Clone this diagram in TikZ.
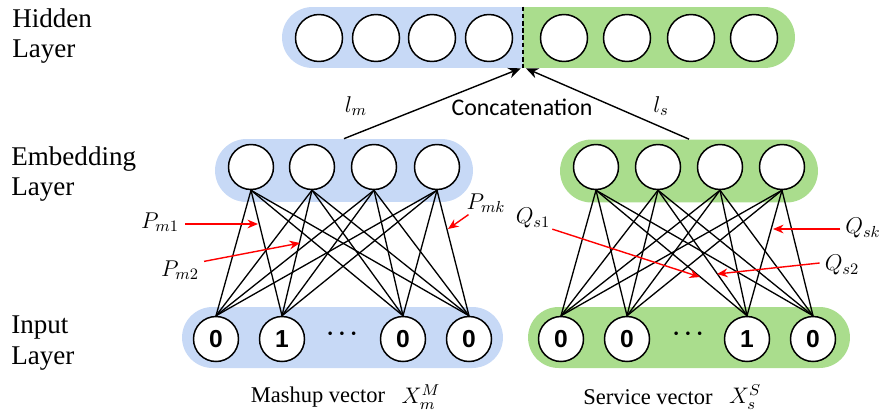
\RequirePackage{fix-cm}
\documentclass[tikz,border=0pt]{standalone}
\usepackage{fontspec}
\setmainfont{Liberation Serif}
\newfontfamily\carlito{Carlito}
\newfontfamily\digitfont{Liberation Sans}
\usetikzlibrary{arrows.meta,shapes.misc}
\definecolor{mblue}{RGB}{199,217,246}
\definecolor{sgreen}{RGB}{170,221,141}

\begin{document}
\begin{tikzpicture}[x=0.02cm,y=-0.02cm,
  unit/.style={circle,draw,line width=0.85pt,fill=white,minimum size=0.9cm,inner sep=0pt},
  inunit/.style={unit,font=\digitfont\bfseries\fontsize{14}{14}\selectfont},
  band/.style={rounded rectangle,inner sep=0pt,minimum height=1.22cm},
  link/.style={line width=0.75pt},
  concat/.style={line width=0.8pt,-{Stealth[length=7pt,width=6pt]}},
  hint/.style={red,line width=0.8pt,-{Stealth[length=6pt,width=5pt]}},
  layer/.style={anchor=west,align=left,inner sep=0pt,font=\fontsize{15.4}{17.2}\selectfont},
  weight/.style={inner sep=1pt,font=\fontsize{13}{14}\selectfont},
  vecname/.style={inner sep=1pt,font=\fontsize{12.8}{14}\selectfont}]
\useasboundingbox (0,0) rectangle (882,416);

% layer names
\node[layer] (hidlab) at (12,36) {Hidden\\Layer};
\node[layer] (emblab) at (11,174) {Embedding\\Layer};
\node[layer] (inlab) at (11,343) {Input\\Layer};

% hidden layer
\node[band,fill=mblue,rounded rectangle right arc=none,minimum width=4.82cm] (hidm) at (402.5,37.5) {};
\node[band,fill=sgreen,rounded rectangle left arc=none,minimum width=5.44cm] (hids) at (659,37.5) {};
\foreach \x [count=\i] in {319,376,432,489} \node[unit,minimum size=0.94cm] (hm\i) at (\x,38) {};
\foreach \x [count=\i] in {564,627,691,754} \node[unit,minimum size=0.94cm] (hs\i) at (\x,38) {};
\draw[line width=1.2pt,dash pattern=on 2.6pt off 1.5pt] (hidm.north east) -- (hidm.south east);

% embedding layer
\node[band,fill=mblue,minimum width=5.16cm,minimum height=1.26cm] (embm) at (344,170.5) {};
\node[band,fill=sgreen,minimum width=5.16cm,minimum height=1.26cm] (embs) at (689,171) {};
\foreach \x [count=\i] in {251,312,374,437} \node[unit] (em\i) at (\x,167) {};
\foreach \x [count=\i] in {596,658,720,782} \node[unit] (es\i) at (\x,167) {};

% input layer
\node[band,fill=mblue,minimum width=6.42cm] (inm) at (342.5,337.5) {};
\node[band,fill=sgreen,minimum width=6.44cm] (ins) at (689,337.5) {};
\foreach \x/\v [count=\i] in {216/0,282/1,403/0,469/0} \node[inunit] (im\i) at (\x,339) {\v};
\foreach \x/\v [count=\i] in {561/0,627/0,747/1,813/0} \node[inunit] (is\i) at (\x,339) {\v};
\node[font=\fontsize{13}{13}\selectfont\boldmath] (mdots) at (342,334) {$\cdots$};
\node[font=\fontsize{13}{13}\selectfont\boldmath] (sdots) at (688,334) {$\cdots$};

% fully connected weights
\foreach \i in {1,...,4}
  \foreach \j in {1,...,4} {
    \draw[link] (em\i.south) -- (im\j.north);
    \draw[link] (es\i.south) -- (is\j.north);
  }

% concatenation
\draw[concat] (embm.north) -- ([xshift=-1.5]hidm.south east);
\draw[concat] (embs.north) -- ([xshift=1.5]hidm.south east);
\node[weight] (lm) at (356,106) {$l_m$};
\node[weight] (ls) at (661,106) {$l_s$};
\node[font=\carlito\fontsize{13.6}{15}\selectfont] (cat) at (522,107) {Concatenation};

% weight labels
\node[weight] (pm1) at (160,222) {$P_{m1}$};
\node[weight] (pm2) at (180,270) {$P_{m2}$};
\node[weight] (pmk) at (486,203) {$P_{mk}$};
\node[weight] (qs1) at (533,218) {$Q_{s1}$};
\node[weight] (qs2) at (842,265) {$Q_{s2}$};
\node[weight] (qsk) at (863,228) {$Q_{sk}$};
\coordinate (tm1) at (258,224);
\coordinate (tm2) at (300,243);
\coordinate (tmk) at (448,229);
\coordinate (ts1) at (700,277);
\coordinate (ts2) at (717,274);
\coordinate (tsk) at (773,229);
\draw[hint] (pm1.east) ++(4,2) -- (tm1);
\draw[hint] (pm2.north east) ++(3,3) -- (tm2);
\draw[hint] (pmk.south west) ++(4,0) -- (tmk);
\draw[hint] (qs1.south east) ++(0,-1) -- (ts1);
\draw[hint] (qs2.west) ++(-3,-2) -- (ts2);
\draw[hint] (qsk.west) ++(-3,1) -- (tsk);

% vector names
\node[vecname] (mvec) at (318,397) {Mashup vector};
\node[vecname,anchor=west] (mx) at ([xshift=7]mvec.east) {$X_m^M$};
\node[vecname] (svec) at (648,397) {Service vector};
\node[vecname,anchor=west] (sx) at ([xshift=7]svec.east) {$X_s^S$};
\end{tikzpicture}
\end{document}
